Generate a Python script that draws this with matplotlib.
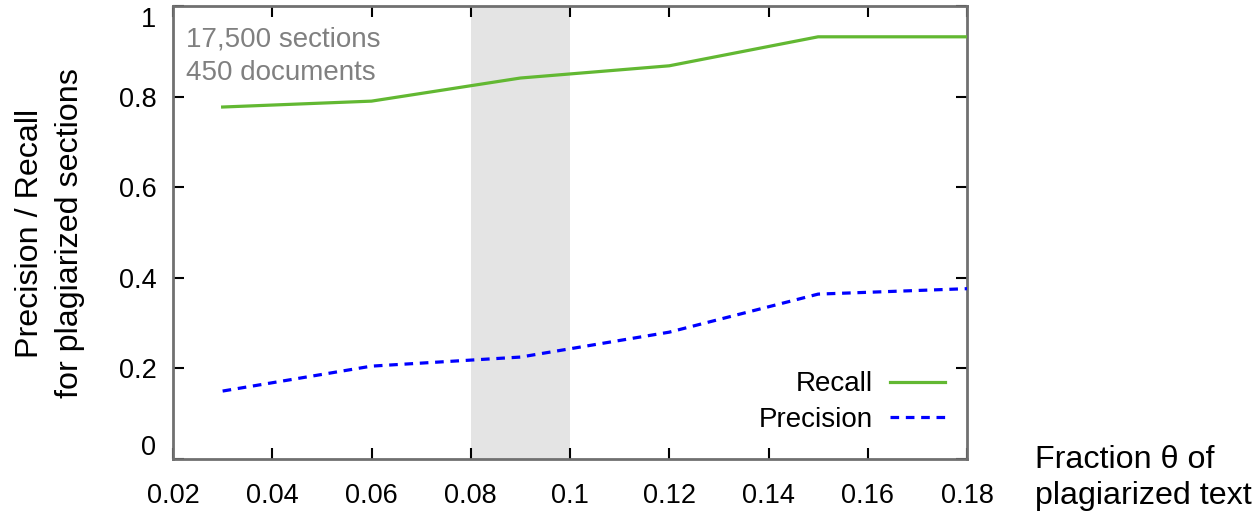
import matplotlib
matplotlib.use("Agg")
import matplotlib.pyplot as plt
import matplotlib.transforms as mtransforms

fractions = [0.03, 0.06, 0.09, 0.12, 0.15, 0.18]
recall = [0.777, 0.790, 0.841, 0.868, 0.932, 0.932]
precision = [0.150, 0.205, 0.225, 0.280, 0.364, 0.376]
x_ticks = [0.02, 0.04, 0.06, 0.08, 0.1, 0.12, 0.14, 0.16, 0.18]
x_tick_labels = ["0.02", "0.04", "0.06", "0.08", "0.1", "0.12", "0.14", "0.16", "0.18"]
y_ticks = [0, 0.2, 0.4, 0.6, 0.8, 1]
y_tick_labels = ["0", "0.2", "0.4", "0.6", "0.8", "1"]
shade_range = (0.08, 0.1)

plt.rcParams['font.family'] = ['Liberation Sans', 'DejaVu Sans']
FS_TICK = 19.5
FS_TXT = 20
FS_LAB = 23.2

W, H = 1257, 512
fig = plt.figure(figsize=(W / 100, H / 100), dpi=100)
L, R, T, B = 173, 967, 6, 459
ax = fig.add_axes([L / W, 1 - B / H, (R - L) / W, (B - T) / H])

ax.axvspan(*shade_range, color='#e4e4e4', lw=0, zorder=0)
ax.plot(fractions, recall, color='#62b832', lw=2.3, label='Recall', zorder=3)
ax.plot(fractions, precision, color='#0000ff', lw=2.3, dashes=(2.7, 2.1),
        label='Precision', zorder=3)

ax.set_xlim(0.02, 0.18)
ax.set_ylim(0, 1)
ax.set_xticks(x_ticks)
ax.set_xticklabels(x_tick_labels, fontsize=FS_TICK)
ax.set_yticks(y_ticks)
ax.set_yticklabels(y_tick_labels, fontsize=FS_TICK)
ax.tick_params(direction='in', length=8, width=1.5, color='black',
               top=True, right=True, pad=12)
ax.tick_params(axis='x', pad=17)
for s in ax.spines.values():
    s.set_color('#707070')
    s.set_linewidth(2)

# shift end labels inward like original
labs = ax.get_yticklabels()
labs[0].set_transform(labs[0].get_transform() + mtransforms.ScaledTranslation(0, 14 / 100, fig.dpi_scale_trans))
labs[-1].set_transform(labs[-1].get_transform() + mtransforms.ScaledTranslation(0, -11 / 100, fig.dpi_scale_trans))

fig.text(186 / W, 1 - 56 / H, "17,500 sections\n450 documents",
         fontsize=FS_TXT, color='#808080', va='center', ha='left', linespacing=1.35)
fig.text(50 / W, 1 - 233 / H, "Precision / Recall\nfor plagiarized sections",
         fontsize=FS_LAB, rotation=90, ha='center', va='center', linespacing=1.4,
         multialignment='center')
fig.text(1035 / W, 1 - 478 / H, "Fraction \u03b8 of\nplagiarized text", fontsize=FS_LAB,
         ha='left', va='center', linespacing=1.25)

leg = ax.legend(loc='lower right', bbox_to_anchor=(1.004, 0.002), frameon=False,
                fontsize=FS_TXT, markerfirst=False, handlelength=2.0, labelspacing=0.35,
                handletextpad=0.6)
for t in leg.get_texts():
    t.set_ha('right')
leg._legend_box.align = 'right'

fig.savefig("out.png", dpi=100)
